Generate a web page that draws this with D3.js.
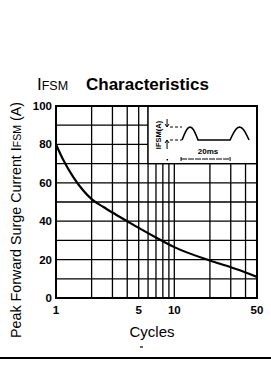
<!DOCTYPE html>
<html>
<head>
<meta charset="utf-8">
<script src="https://d3js.org/d3.v7.min.js"></script>
<style>
  body { margin: 0; background: #fff; }
  svg { display: block; font-family: "Liberation Sans", Arial, sans-serif; }
</style>
</head>
<body>
<div class="chart"></div>
<script>
// data
var cycles  = [1, 1.15, 1.4, 1.7, 2, 2.5, 3, 4, 5, 7, 10, 20, 30, 40, 50];
var current = [80, 72, 63, 56, 51.5, 47.5, 44.5, 40, 36.5, 31.5, 26.5, 19.5, 16, 13.3, 11];

var yTicks = [0, 20, 40, 60, 80, 100];
var yGrid = d3.range(0, 101, 10);
var xTicks = [1, 5, 10, 50];
var xGrid = [1, 2, 3, 4, 5, 6, 7, 8, 9, 10, 20, 30, 40, 50];

function wrapper(){

var w = 271, h = 381;

var svg = d3.select("div.chart")
            .append("svg")
            .attr("width", w)
            .attr("height", h);

//plot box
var x = d3.scaleLog().domain([1, 50]).range([56, 257]);
var y = d3.scaleLinear().domain([0, 100]).range([298, 106]);

//title
var title = svg.append("text")
               .attr("x", 37)
               .attr("y", 90)
               .attr("fill", "#000");
title.append("tspan").attr("font-size", 17).text("I");
title.append("tspan").attr("font-size", 12.5).text("FSM");
title.append("tspan")
     .attr("x", 86)
     .attr("font-size", 17)
     .attr("font-weight", "bold")
     .text("Characteristics");

//grid
svg.selectAll(".hgrid")
   .data(yGrid)
   .enter()
   .append("line")
     .attr("x1", x(1)).attr("x2", x(50))
     .attr("y1", function(d){ return y(d); })
     .attr("y2", function(d){ return y(d); })
     .attr("stroke", "#000")
     .attr("stroke-width", 1.3);

svg.selectAll(".vgrid")
   .data(xGrid)
   .enter()
   .append("line")
     .attr("x1", function(d){ return x(d); })
     .attr("x2", function(d){ return x(d); })
     .attr("y1", y(0)).attr("y2", y(100))
     .attr("stroke", "#000")
     .attr("stroke-width", 1.3);

//inset box covers the grid top right (6..50 cycles, 70..100 A)
var bx0 = x(6), bx1 = x(50), by0 = y(100), by1 = y(70);
svg.append("rect")
   .attr("x", bx0).attr("y", by0)
   .attr("width", bx1 - bx0).attr("height", by1 - by0)
   .attr("fill", "#fff");
svg.append("path")
   .attr("d", "M" + bx0 + "," + by0 + "V" + by1 + "H" + bx1)
   .attr("fill", "none")
   .attr("stroke", "#000")
   .attr("stroke-width", 1.3);

//waveform sketch in the inset
var ins = svg.append("g").attr("transform", "translate(" + bx0 + "," + by0 + ")");
var base = 34, top = 21;
var hump = function(a, b){
  var pts = d3.range(0, 1.001, 0.1).map(function(t){
    return [a + (b - a) * t, base - (base - top) * Math.sin(Math.PI * t)];
  });
  return pts;
};
var wave = hump(34, 50).concat([[82, base]]).concat(hump(82, 101));
ins.append("path")
   .attr("d", d3.line()(wave))
   .attr("fill", "none")
   .attr("stroke", "#000")
   .attr("stroke-width", 1.6);

[top, base].forEach(function(v){
  ins.append("line")
     .attr("x1", 22).attr("x2", 34)
     .attr("y1", v).attr("y2", v)
     .attr("stroke", "#000")
     .attr("stroke-width", 1)
     .attr("stroke-dasharray", "3,2");
});
//little arrows on the amplitude
ins.append("path")
   .attr("d", "M19,13V" + top + "M17,18L19,21L21,18M19," + (base + 9) + "V" + base + "M17," + (base + 3) + "L19," + base + "L21," + (base + 3))
   .attr("fill", "none")
   .attr("stroke", "#000")
   .attr("stroke-width", 1);

ins.append("text")
   .attr("transform", "translate(13,29) rotate(-90)")
   .attr("text-anchor", "middle")
   .attr("font-size", 7.5)
   .attr("font-weight", "bold")
   .text("IFSM(A)");

ins.append("text")
   .attr("x", 60).attr("y", 48)
   .attr("text-anchor", "middle")
   .attr("font-size", 8)
   .attr("font-weight", "bold")
   .text("20ms");
ins.append("path")
   .attr("d", "M33,53H82M33,51V55M82,51V55")
   .attr("fill", "none")
   .attr("stroke", "#000")
   .attr("stroke-width", 1)
   .attr("stroke-dasharray", "6,1");
ins.append("rect")
   .attr("x", 18.5).attr("y", 53)
   .attr("width", 1.5).attr("height", 1.5)
   .attr("fill", "#000");

//curve
var line = d3.line()
             .x(function(d){ return x(d[0]); })
             .y(function(d){ return y(d[1]); })
             .curve(d3.curveMonotoneX);
svg.append("path")
   .datum(cycles.map(function(c, i){ return [c, current[i]]; }))
   .attr("d", line)
   .attr("fill", "none")
   .attr("stroke", "#000")
   .attr("stroke-width", 2.2);

//frame
svg.append("rect")
   .attr("x", x(1)).attr("y", y(100))
   .attr("width", x(50) - x(1)).attr("height", y(0) - y(100))
   .attr("fill", "none")
   .attr("stroke", "#000")
   .attr("stroke-width", 2);

//axes labels
svg.selectAll(".ylab")
   .data(yTicks)
   .enter()
   .append("text")
     .attr("x", 52)
     .attr("y", function(d){ return y(d) + 4; })
     .attr("text-anchor", "end")
     .attr("font-size", 11.5)
     .attr("font-weight", "bold")
     .text(function(d){ return d; });

svg.selectAll(".xlab")
   .data(xTicks)
   .enter()
   .append("text")
     .attr("x", function(d){ return x(d); })
     .attr("y", 314)
     .attr("text-anchor", "middle")
     .attr("font-size", 11.5)
     .attr("font-weight", "bold")
     .text(function(d){ return d; });

svg.append("text")
   .attr("x", 152).attr("y", 337)
   .attr("text-anchor", "middle")
   .attr("font-size", 15)
   .text("Cycles");

var ytitle = svg.append("text")
   .attr("transform", "translate(21,220) rotate(-90)")
   .attr("text-anchor", "middle")
   .attr("font-size", 14.3);
ytitle.append("tspan").text("Peak Forward Surge Current I");
ytitle.append("tspan").attr("font-size", 10.5).text("FSM");
ytitle.append("tspan").text(" (A)");

//scan marks at bottom
svg.append("line")
   .attr("x1", 140).attr("x2", 143)
   .attr("y1", 347).attr("y2", 347)
   .attr("stroke", "#000").attr("stroke-width", 1.2);
svg.append("line")
   .attr("x1", 0).attr("x2", w)
   .attr("y1", 358).attr("y2", 358)
   .attr("stroke", "#000").attr("stroke-width", 2);

}
window.onload = wrapper();
</script>
</body>
</html>
